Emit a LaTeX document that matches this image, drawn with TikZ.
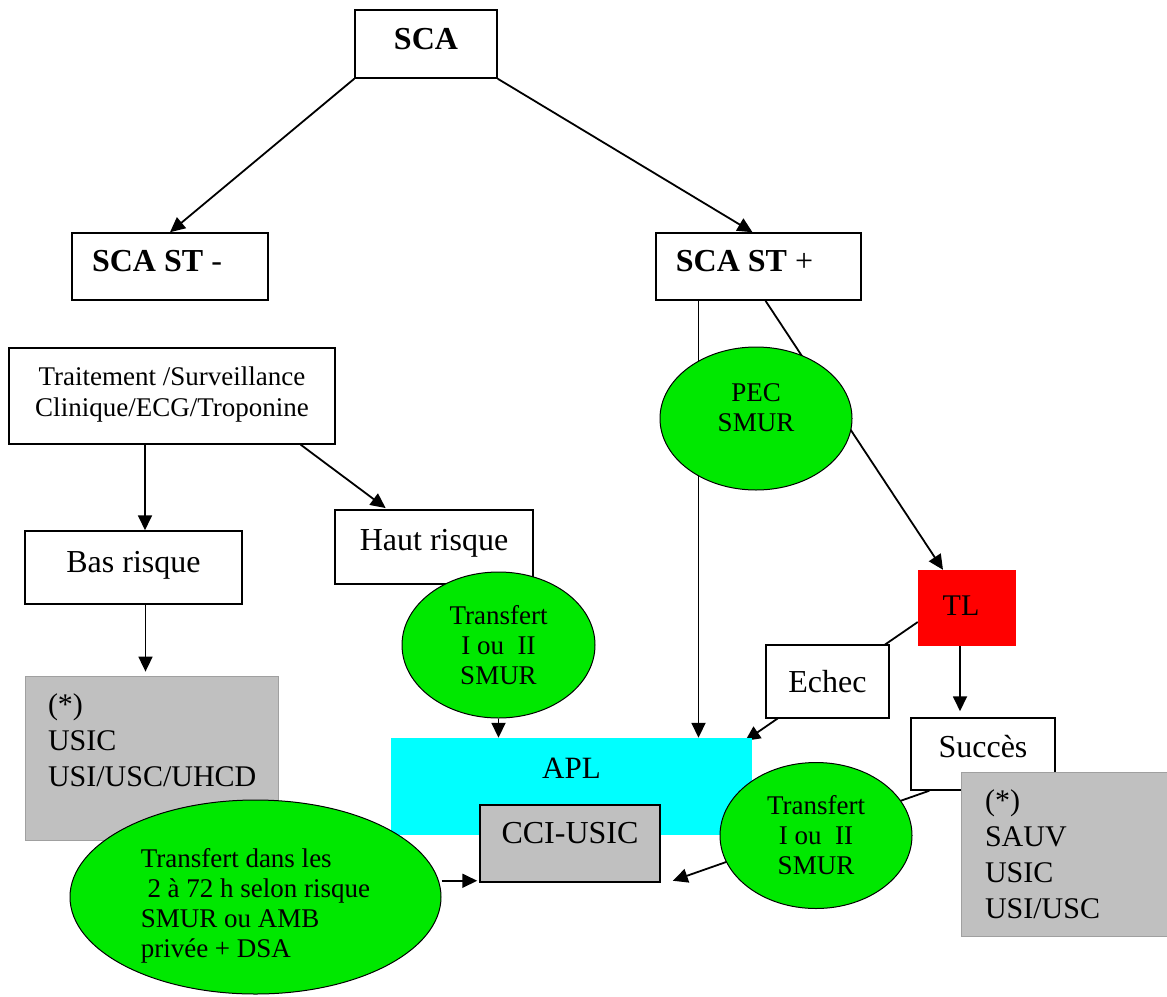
\documentclass[tikz,border=0pt]{standalone}
\usepackage{fontspec}
\setmainfont{Liberation Serif}
\usetikzlibrary{arrows.meta,shapes.geometric,backgrounds}
\definecolor{vert}{RGB}{0,232,0}
\definecolor{cyan2}{RGB}{0,255,255}
\definecolor{gris}{RGB}{192,192,192}
\definecolor{grisbord}{RGB}{160,160,160}

\begin{document}
\begin{tikzpicture}[x=1pt,y=-1pt,
        boite/.style={draw,fill=white,line width=1.5pt,inner sep=0pt,font=\fontsize{32}{36}\selectfont},
        titre/.style={boite,text height=22pt,text depth=12pt,font=\fontsize{32}{36}\selectfont\bfseries},
        bulle/.style={ellipse,draw,fill=vert,line width=1pt,inner sep=0pt,align=center,font=\fontsize{27}{30}\selectfont},
        grisbox/.style={fill=gris,draw=grisbord,line width=0.8pt,inner sep=0pt,align=left,font=\fontsize{30}{36}\selectfont},
        fleche/.style={-{Triangle[length=15pt,width=14pt]},line width=1.8pt}]
        \useasboundingbox (0,0) rectangle (1167,996);
        \node[titre,minimum width=142pt,minimum height=68pt] at (426,44) (sca) {SCA};
        \node[titre,minimum width=196pt,minimum height=67pt] at (170,266.5) (stm) {\hspace{-26pt}SCA ST {\mdseries -}};
        \node[titre,minimum width=205pt,minimum height=67pt] at (758.5,266.5) (stp) {\hspace{-28pt}SCA ST {\mdseries +}};
        \node[boite,align=center,font=\fontsize{27}{31}\selectfont,minimum width=326pt,minimum height=96pt] at (172,396) (trait) {Traitement /Surveillance\\Clinique/ECG/Troponine\\[-22pt]\mbox{}};
        \node[boite,text height=22pt,text depth=12pt,minimum width=217pt,minimum height=73pt] at (133.5,567.5) (bas) {Bas risque};
        \node[boite,text height=22pt,text depth=16pt,minimum width=198pt,minimum height=74pt] at (434,547) (haut) {Haut risque};
        \node[bulle,minimum width=193pt,minimum height=146pt] at (498.5,645) (trans1) {Transfert\\I ou\ \ II\\SMUR};
        \node[bulle,minimum width=192pt,minimum height=143pt] at (756,418.5) (pec) {PEC\\SMUR\\[-8pt]\mbox{}};
        \node[fill=red,inner sep=0pt,text height=24pt,text depth=10pt,font=\fontsize{30}{36}\selectfont,minimum width=98pt,minimum height=76pt] at (967,608) (tl) {\hspace{-12pt}TL};
        \node[boite,minimum width=123pt,minimum height=73pt] at (827.5,681.5) (echec) {Echec};
        \node[boite,text height=22pt,text depth=16pt,minimum width=144pt,minimum height=72pt] at (983,754) (succes) {Succès};
        \node[grisbox,text width=207pt,minimum width=253pt,minimum height=164pt] at (151.5,758) (usic1) {(*)\\USIC\\USI/USC/UHCD\\\mbox{}};
        \node[fill=cyan2,inner sep=0pt,text height=21pt,text depth=38pt,font=\fontsize{31}{36}\selectfont,minimum width=361pt,minimum height=97pt] at (571.5,786.5) (apl) {APL};
        \node[boite,fill=gris,text height=21pt,text depth=22pt,minimum width=180pt,minimum height=77pt] at (570,843.5) (cci) {CCI-USIC};
        \node[bulle,minimum width=192pt,minimum height=146pt] at (816,835.5) (trans2) {Transfert\\I ou\ \ II\\SMUR};
        \node[grisbox,text width=158pt,minimum width=206pt,minimum height=164pt] at (1064,854) (usic2) {(*)\\SAUV\\USIC\\USI/USC};
        \node[bulle,align=left,minimum width=371pt,minimum height=194pt] at (255.5,897) (big) {Transfert dans les\\\ 2 à 72 h selon risque\\SMUR ou AMB\\privée + DSA\\[-42pt]\mbox{}};
        \begin{scope}[on background layer]
        \draw[fleche] (sca.south west) -- (stm.north);
        \draw[fleche] (sca.south east) -- ([xshift=-6pt]stp.north);
        \draw[fleche] ([xshift=-60pt]stp.south) -- ([xshift=-60pt]stp.south |- apl.north);
        \draw[fleche] ([xshift=7pt]stp.south) -- ([xshift=-24pt]tl.north);
        \draw[fleche] ([yshift=-14pt]tl.west) -- ([xshift=-7pt,yshift=-3pt]apl.north east);
        \draw[fleche,shorten >=6pt] ([xshift=-7pt]tl.south) -- ([xshift=-7pt]tl.south |- succes.north);
        \draw[fleche] ([xshift=19pt]succes.south west) -- ([xshift=12pt,yshift=2pt]cci.south east);
        \draw[fleche] ([xshift=-27pt]trait.south) -- ([xshift=-27pt]trait.south |- bas.north);
        \draw[fleche,shorten >=2pt] ([xshift=-35pt]trait.south east) -- ([xshift=53pt]haut.north west);
        \draw[fleche,shorten >=4pt] ([xshift=12pt]bas.south) -- ([xshift=12pt]bas.south |- usic1.north);
        \draw[fleche] (trans1.south) -- (trans1.south |- apl.north);
        \draw[fleche,shorten >=2pt] ([yshift=2pt]cci.south west -| big.east) -- ([yshift=2pt]cci.south west);
        \end{scope}
    \end{tikzpicture}
\end{document}
